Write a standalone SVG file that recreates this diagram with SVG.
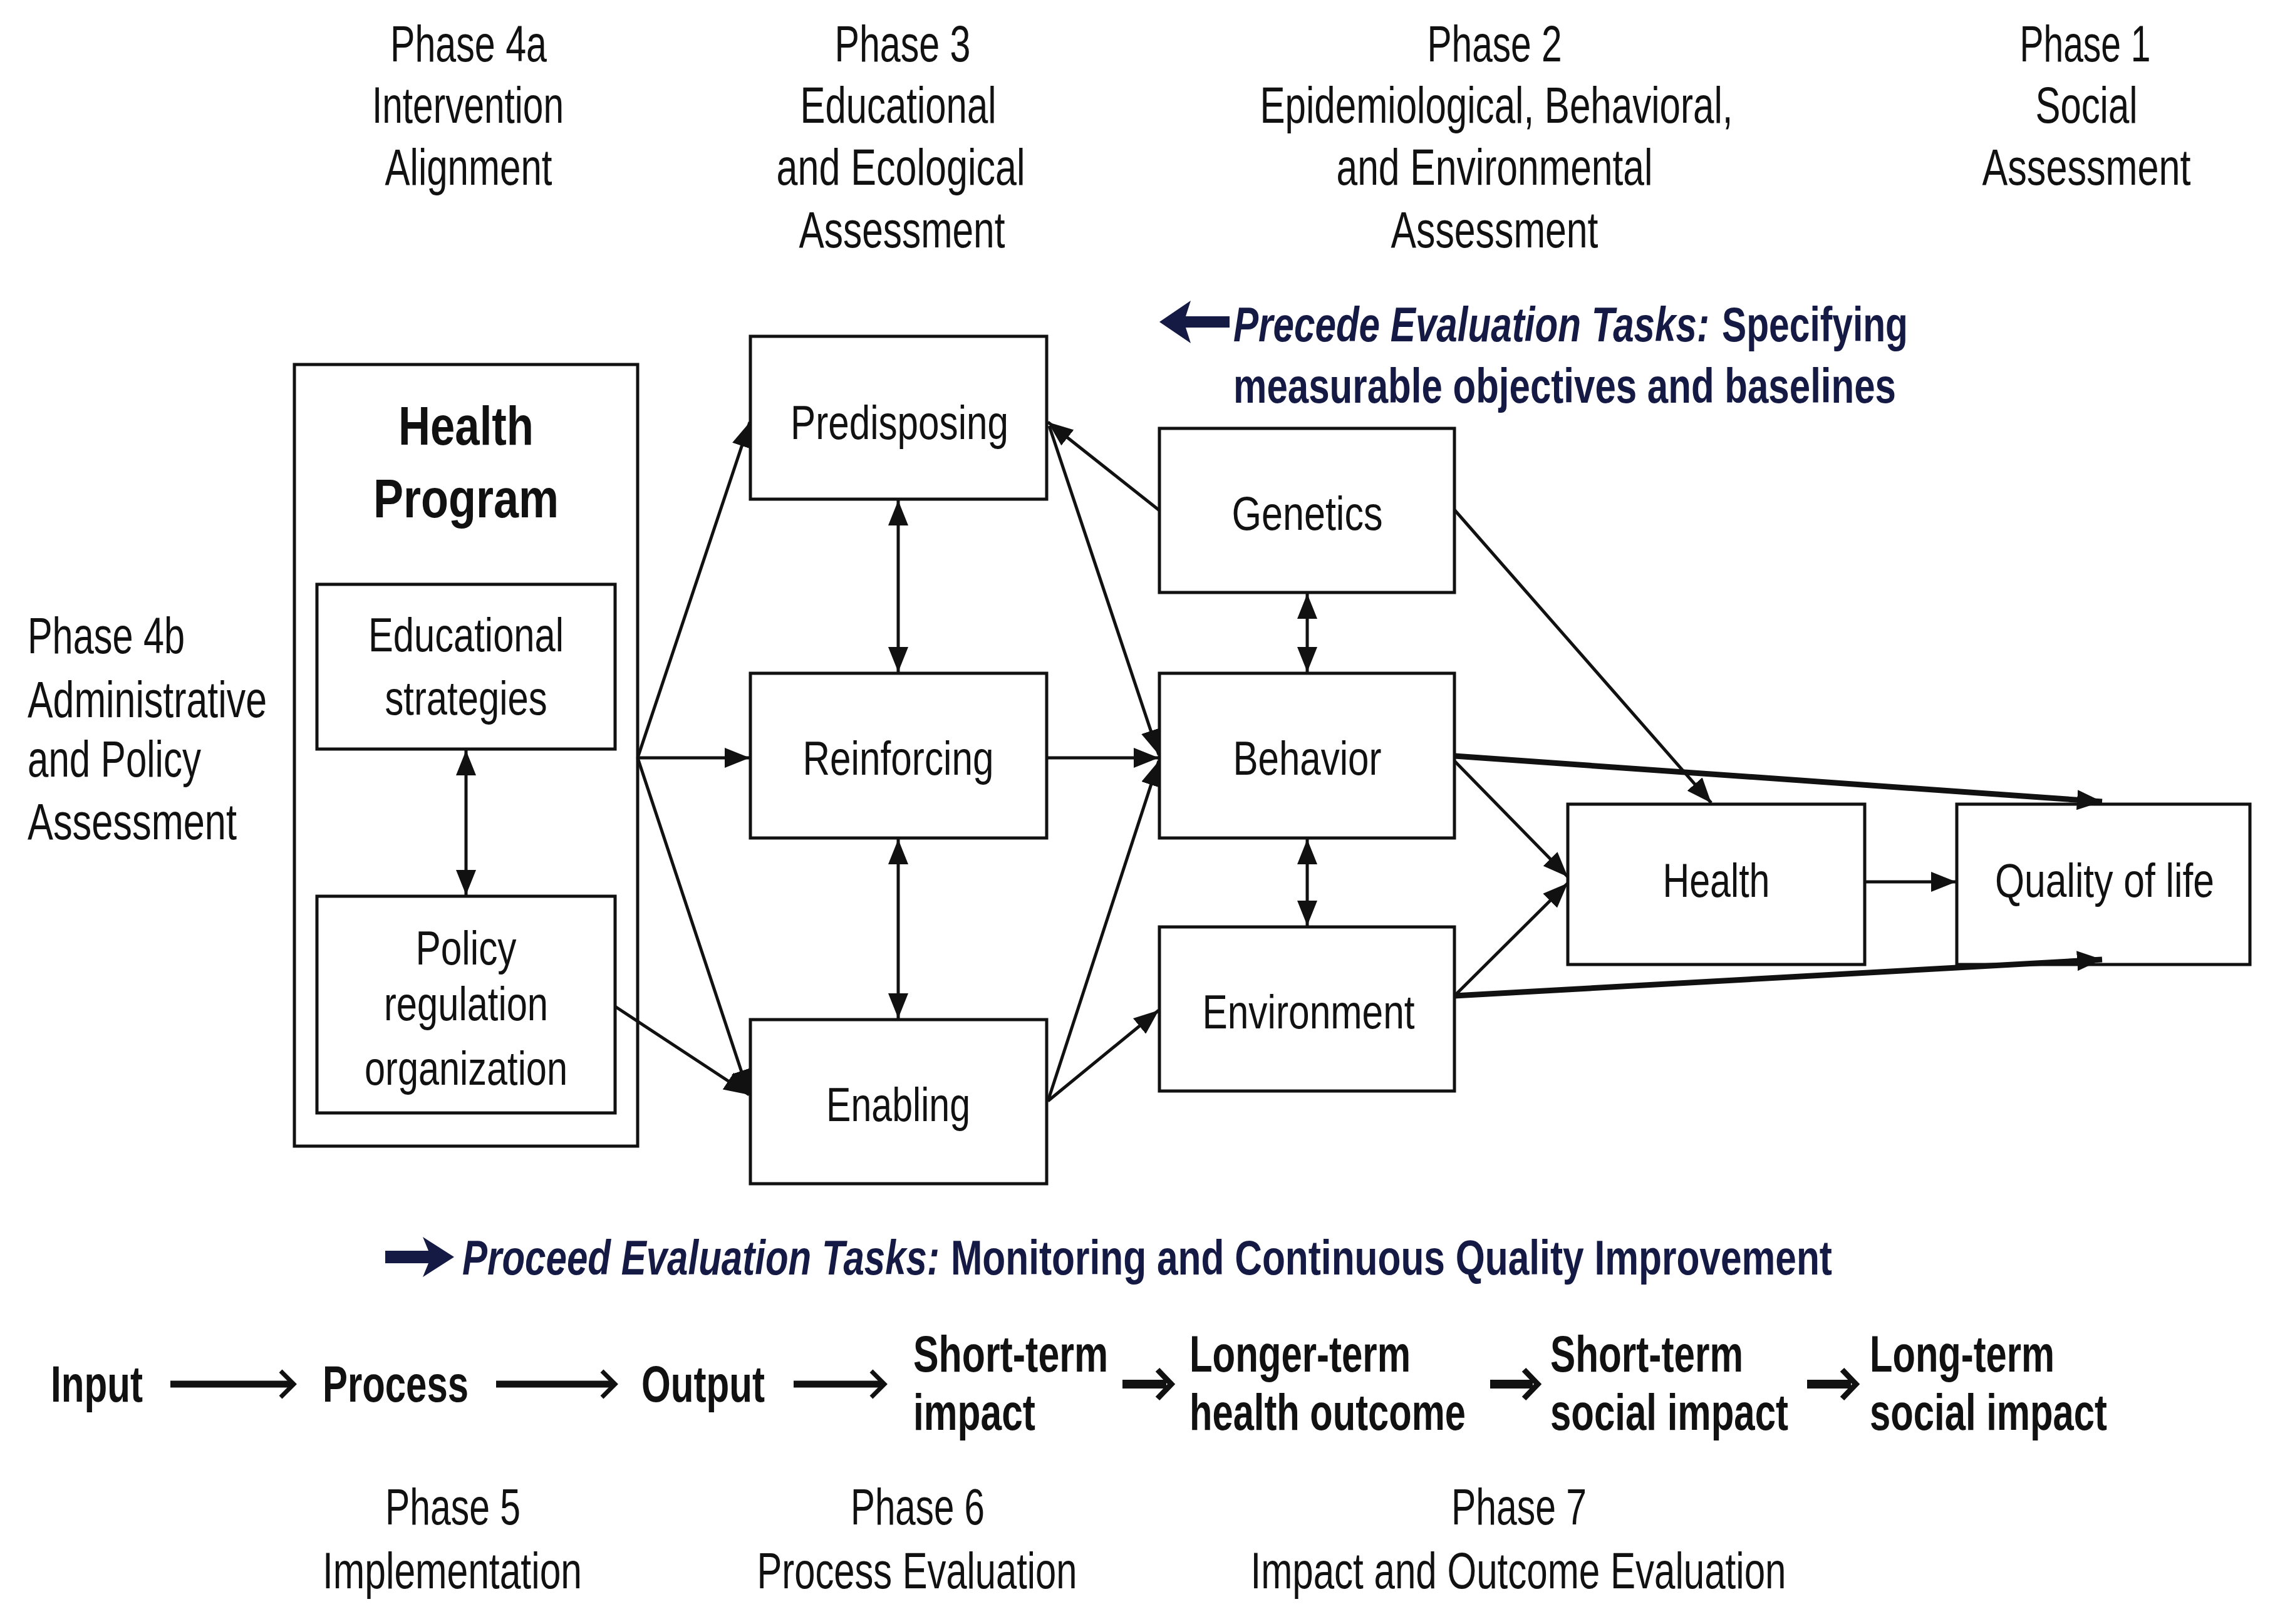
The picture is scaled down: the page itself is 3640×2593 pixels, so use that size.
<svg xmlns="http://www.w3.org/2000/svg" width="3640" height="2593" viewBox="0 0 3640 2593">
<defs>
<style>
text{font-family:"Liberation Sans",Arial,sans-serif;fill:#111;}
.ph{font-size:81px;}
.bx{font-size:76px;}
.hp{font-size:88px;font-weight:bold;}
.nv{font-size:78px;font-weight:bold;fill:#151a45;}
.it{font-style:italic;}
.bt{font-size:82px;font-weight:bold;}
.box{fill:#fff;stroke:#111;stroke-width:5;}
.c{stroke:#111;stroke-width:5;fill:none;}
.ct{stroke:#111;stroke-width:9;fill:none;}
.sh{stroke:#111;fill:none;}
</style>
<marker id="ah" markerUnits="userSpaceOnUse" markerWidth="40" markerHeight="32" refX="40" refY="16" orient="auto-start-reverse" viewBox="0 0 40 32">
<path d="M0,0 L40,16 L0,32 Z" fill="#111"/>
</marker>
</defs>
<rect width="3640" height="2593" fill="#fff"/>

<g id="phase-labels">
<text class="ph" text-anchor="middle" x="748" y="98" textLength="250" lengthAdjust="spacingAndGlyphs">Phase 4a</text>
<text class="ph" text-anchor="middle" x="747" y="196" textLength="306" lengthAdjust="spacingAndGlyphs">Intervention</text>
<text class="ph" text-anchor="middle" x="748" y="295" textLength="267" lengthAdjust="spacingAndGlyphs">Alignment</text>

<text class="ph" text-anchor="middle" x="1441" y="98" textLength="217" lengthAdjust="spacingAndGlyphs">Phase 3</text>
<text class="ph" text-anchor="middle" x="1434" y="196" textLength="313" lengthAdjust="spacingAndGlyphs">Educational</text>
<text class="ph" text-anchor="middle" x="1438" y="295" textLength="397" lengthAdjust="spacingAndGlyphs">and Ecological</text>
<text class="ph" text-anchor="middle" x="1440" y="395" textLength="329" lengthAdjust="spacingAndGlyphs">Assessment</text>

<text class="ph" text-anchor="middle" x="2386" y="98" textLength="215" lengthAdjust="spacingAndGlyphs">Phase 2</text>
<text class="ph" text-anchor="middle" x="2389" y="196" textLength="755" lengthAdjust="spacingAndGlyphs">Epidemiological, Behavioral,</text>
<text class="ph" text-anchor="middle" x="2386" y="295" textLength="505" lengthAdjust="spacingAndGlyphs">and Environmental</text>
<text class="ph" text-anchor="middle" x="2386" y="395" textLength="331" lengthAdjust="spacingAndGlyphs">Assessment</text>

<text class="ph" text-anchor="middle" x="3329" y="98" textLength="209" lengthAdjust="spacingAndGlyphs">Phase 1</text>
<text class="ph" text-anchor="middle" x="3331" y="196" textLength="163" lengthAdjust="spacingAndGlyphs">Social</text>
<text class="ph" text-anchor="middle" x="3331" y="295" textLength="333" lengthAdjust="spacingAndGlyphs">Assessment</text>

<text class="ph" x="44" y="1043" textLength="251" lengthAdjust="spacingAndGlyphs">Phase 4b</text>
<text class="ph" x="44" y="1145" textLength="382" lengthAdjust="spacingAndGlyphs">Administrative</text>
<text class="ph" x="44" y="1240" textLength="277" lengthAdjust="spacingAndGlyphs">and Policy</text>
<text class="ph" x="44" y="1340" textLength="334" lengthAdjust="spacingAndGlyphs">Assessment</text>

<text class="ph" text-anchor="middle" x="723" y="2434" textLength="216" lengthAdjust="spacingAndGlyphs">Phase 5</text>
<text class="ph" text-anchor="middle" x="722" y="2536" textLength="414" lengthAdjust="spacingAndGlyphs">Implementation</text>
<text class="ph" text-anchor="middle" x="1465" y="2434" textLength="214" lengthAdjust="spacingAndGlyphs">Phase 6</text>
<text class="ph" text-anchor="middle" x="1464" y="2536" textLength="511" lengthAdjust="spacingAndGlyphs">Process Evaluation</text>
<text class="ph" text-anchor="middle" x="2425" y="2434" textLength="216" lengthAdjust="spacingAndGlyphs">Phase 7</text>
<text class="ph" text-anchor="middle" x="2424" y="2536" textLength="855" lengthAdjust="spacingAndGlyphs">Impact and Outcome Evaluation</text>
</g>

<g id="health-program">
<rect class="box" x="470" y="582" width="548" height="1248"/>
<text class="hp" text-anchor="middle" x="744" y="710" textLength="216" lengthAdjust="spacingAndGlyphs">Health</text>
<text class="hp" text-anchor="middle" x="744" y="826" textLength="296" lengthAdjust="spacingAndGlyphs">Program</text>
</g>
<g id="educational-strategies">
<rect class="box" x="506" y="933" width="476" height="263"/>
<text class="bx" text-anchor="middle" x="744" y="1040" textLength="312" lengthAdjust="spacingAndGlyphs">Educational</text>
<text class="bx" text-anchor="middle" x="744" y="1141" textLength="259" lengthAdjust="spacingAndGlyphs">strategies</text>
</g>
<g id="policy">
<rect class="box" x="506" y="1431" width="476" height="346"/>
<text class="bx" text-anchor="middle" x="744" y="1540" textLength="161" lengthAdjust="spacingAndGlyphs">Policy</text>
<text class="bx" text-anchor="middle" x="744" y="1629" textLength="262" lengthAdjust="spacingAndGlyphs">regulation</text>
<text class="bx" text-anchor="middle" x="744" y="1732" textLength="324" lengthAdjust="spacingAndGlyphs">organization</text>
</g>
<g id="predisposing">
<rect class="box" x="1198" y="537" width="473" height="260"/>
<text class="bx" text-anchor="middle" x="1436" y="701" textLength="348" lengthAdjust="spacingAndGlyphs">Predisposing</text>
</g>
<g id="reinforcing">
<rect class="box" x="1198" y="1075" width="473" height="263"/>
<text class="bx" text-anchor="middle" x="1434" y="1237" textLength="305" lengthAdjust="spacingAndGlyphs">Reinforcing</text>
</g>
<g id="enabling">
<rect class="box" x="1198" y="1628" width="473" height="262"/>
<text class="bx" text-anchor="middle" x="1434" y="1790" textLength="230" lengthAdjust="spacingAndGlyphs">Enabling</text>
</g>
<g id="genetics">
<rect class="box" x="1851" y="684" width="471" height="262"/>
<text class="bx" text-anchor="middle" x="2087" y="846" textLength="241" lengthAdjust="spacingAndGlyphs">Genetics</text>
</g>
<g id="behavior">
<rect class="box" x="1851" y="1075" width="471" height="263"/>
<text class="bx" text-anchor="middle" x="2087" y="1237" textLength="237" lengthAdjust="spacingAndGlyphs">Behavior</text>
</g>
<g id="environment">
<rect class="box" x="1851" y="1480" width="471" height="262"/>
<text class="bx" text-anchor="middle" x="2089" y="1642" textLength="339" lengthAdjust="spacingAndGlyphs">Environment</text>
</g>
<g id="health">
<rect class="box" x="2503" y="1284" width="474" height="256"/>
<text class="bx" text-anchor="middle" x="2740" y="1432" textLength="171" lengthAdjust="spacingAndGlyphs">Health</text>
</g>
<g id="quality-of-life">
<rect class="box" x="3124" y="1284" width="468" height="256"/>
<text class="bx" text-anchor="middle" x="3360" y="1432" textLength="350" lengthAdjust="spacingAndGlyphs">Quality of life</text>
</g>

<g id="connectors">
<line class="c" x1="1018" y1="1210" x2="1197" y2="674" marker-end="url(#ah)"/>
<line class="c" x1="1018" y1="1210" x2="1197" y2="1210" marker-end="url(#ah)"/>
<line class="c" x1="1018" y1="1210" x2="1196" y2="1748" marker-end="url(#ah)"/>
<line class="c" x1="982" y1="1607" x2="1196" y2="1748" marker-end="url(#ah)"/>
<line class="c" x1="744" y1="1198" x2="744" y2="1429" marker-start="url(#ah)" marker-end="url(#ah)"/>
<line class="c" x1="1434" y1="799" x2="1434" y2="1073" marker-start="url(#ah)" marker-end="url(#ah)"/>
<line class="c" x1="1434" y1="1340" x2="1434" y2="1626" marker-start="url(#ah)" marker-end="url(#ah)"/>
<line class="c" x1="1851" y1="815" x2="1673" y2="674" marker-end="url(#ah)"/>
<line class="c" x1="1675" y1="680" x2="1850" y2="1205" marker-end="url(#ah)"/>
<line class="c" x1="1671" y1="1210" x2="1850" y2="1210" marker-end="url(#ah)"/>
<line class="c" x1="1673" y1="1758" x2="1850" y2="1215" marker-end="url(#ah)"/>
<line class="c" x1="1673" y1="1758" x2="1850" y2="1613" marker-end="url(#ah)"/>
<line class="c" x1="2087" y1="948" x2="2087" y2="1073" marker-start="url(#ah)" marker-end="url(#ah)"/>
<line class="c" x1="2087" y1="1340" x2="2087" y2="1478" marker-start="url(#ah)" marker-end="url(#ah)"/>
<line class="c" x1="2322" y1="814" x2="2732" y2="1282" marker-end="url(#ah)"/>
<line class="ct" x1="2322" y1="1207" x2="3356" y2="1280" marker-end="url(#ah)"/>
<line class="c" x1="2322" y1="1215" x2="2503" y2="1400" marker-end="url(#ah)"/>
<line class="c" x1="2322" y1="1590" x2="2503" y2="1410" marker-end="url(#ah)"/>
<line class="ct" x1="2322" y1="1590" x2="3356" y2="1532" marker-end="url(#ah)"/>
<line class="c" x1="2977" y1="1408" x2="3123" y2="1408" marker-end="url(#ah)"/>
</g>

<g id="precede-note">
<path d="M1851,514 L1901,480 L1893,505 L1963,505 L1963,523 L1893,523 L1901,548 Z" fill="#151a45"/>
<text class="nv" y="545"><tspan class="it" x="1969" textLength="760" lengthAdjust="spacingAndGlyphs">Precede Evaluation Tasks:</tspan><tspan x="2749" textLength="297" lengthAdjust="spacingAndGlyphs">Specifying</tspan></text>
<text class="nv" x="1969" y="643" textLength="1058" lengthAdjust="spacingAndGlyphs">measurable objectives and baselines</text>
</g>

<g id="proceed-note">
<path d="M725,2007 L675,1975 L684,1997 L615,1997 L615,2017 L684,2017 L675,2039 Z" fill="#151a45"/>
<text class="nv" y="2035"><tspan class="it" x="738" textLength="762" lengthAdjust="spacingAndGlyphs">Proceed Evaluation Tasks:</tspan><tspan x="1518" textLength="1407" lengthAdjust="spacingAndGlyphs">Monitoring and Continuous Quality Improvement</tspan></text>
</g>

<g id="outcome-chain">
<text class="bt" x="81" y="2238" textLength="147" lengthAdjust="spacingAndGlyphs">Input</text>
<text class="bt" x="515" y="2238" textLength="233" lengthAdjust="spacingAndGlyphs">Process</text>
<text class="bt" x="1024" y="2238" textLength="197" lengthAdjust="spacingAndGlyphs">Output</text>
<text class="bt" x="1458" y="2190" textLength="311" lengthAdjust="spacingAndGlyphs">Short-term</text>
<text class="bt" x="1458" y="2283" textLength="195" lengthAdjust="spacingAndGlyphs">impact</text>
<text class="bt" x="1899" y="2190" textLength="353" lengthAdjust="spacingAndGlyphs">Longer-term</text>
<text class="bt" x="1899" y="2283" textLength="441" lengthAdjust="spacingAndGlyphs">health outcome</text>
<text class="bt" x="2475" y="2190" textLength="308" lengthAdjust="spacingAndGlyphs">Short-term</text>
<text class="bt" x="2475" y="2283" textLength="380" lengthAdjust="spacingAndGlyphs">social impact</text>
<text class="bt" x="2985" y="2190" textLength="295" lengthAdjust="spacingAndGlyphs">Long-term</text>
<text class="bt" x="2985" y="2283" textLength="379" lengthAdjust="spacingAndGlyphs">social impact</text>
</g>

<g id="chain-arrows">
<line class="sh" stroke-width="11" x1="272" y1="2210" x2="465" y2="2210"/>
<polyline class="sh" stroke-width="7" points="448,2189 469,2210 448,2231"/>
<line class="sh" stroke-width="11" x1="792" y1="2210" x2="978" y2="2210"/>
<polyline class="sh" stroke-width="7" points="961,2189 982,2210 961,2231"/>
<line class="sh" stroke-width="11" x1="1267" y1="2210" x2="1408" y2="2210"/>
<polyline class="sh" stroke-width="7" points="1391,2189 1412,2210 1391,2231"/>
<line class="sh" stroke-width="14" x1="1792" y1="2210" x2="1862" y2="2210"/>
<polyline class="sh" stroke-width="9" points="1848,2187 1870,2210 1848,2233"/>
<line class="sh" stroke-width="14" x1="2379" y1="2210" x2="2447" y2="2210"/>
<polyline class="sh" stroke-width="9" points="2433,2187 2455,2210 2433,2233"/>
<line class="sh" stroke-width="14" x1="2885" y1="2210" x2="2955" y2="2210"/>
<polyline class="sh" stroke-width="9" points="2941,2187 2963,2210 2941,2233"/>
</g>
</svg>
